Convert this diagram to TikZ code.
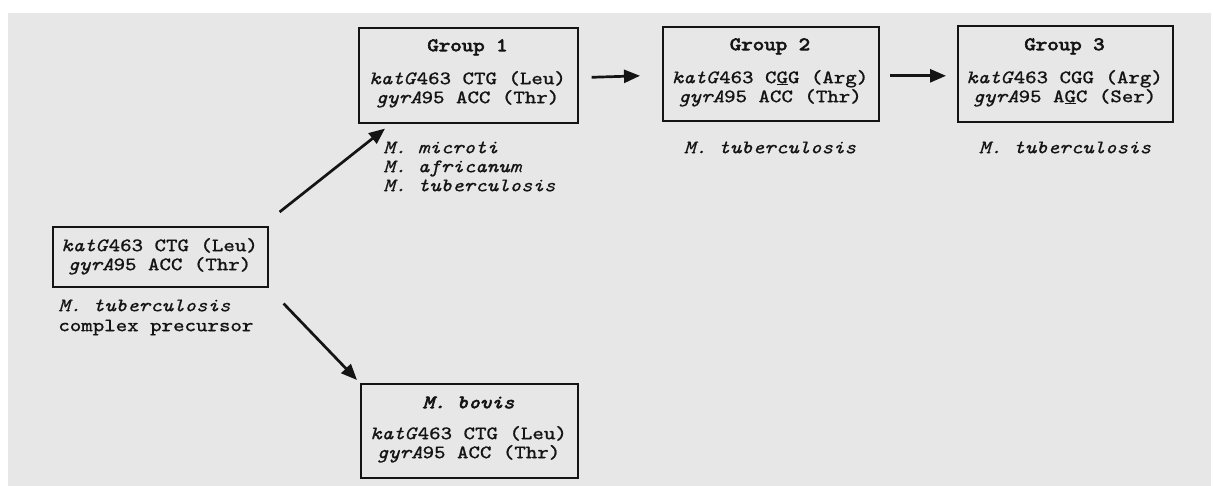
\documentclass[tikz,border=0pt]{standalone}
\usepackage{fontspec}
\usetikzlibrary{arrows.meta,calc}
\newfontfamily\tx[FakeBold=0.7,FakeStretch=1.15]{Latin Modern Mono}
\newfontfamily\tb[FakeBold=3.2,FakeStretch=1.15]{Latin Modern Mono}
\definecolor{bg}{RGB}{231,231,231}
\definecolor{ink}{RGB}{20,20,20}
\newcommand{\ul}[1]{{\setbox0\hbox{#1}\rlap{\raisebox{-1.1pt}{\rule{\wd0}{0.45pt}}}\box0}}
\begin{document}
\begin{tikzpicture}[x=0.5pt,y=-0.5pt,
  every node/.style={font=\tx\fontsize{9.5}{9}\selectfont, text=ink, inner sep=0pt,
    text height=5.6pt, text depth=1.4pt},
  box/.style={draw=ink, line width=0.8pt, fill=bg, inner sep=0pt, anchor=north west,
    text height=, text depth=},
  ttl/.style={font=\tb\fontsize{9.5}{9}\selectfont},
  spc/.style={font=\tx\itshape\fontsize{9.5}{9}\selectfont},
  arr/.style={-{Triangle[length=8pt,width=6.5pt]}, line width=1.35pt, draw=ink},
]
\useasboundingbox (0,0) rectangle (1213,486);
\fill[bg] (8,13) rectangle (1211,486);

% boxes
\node[box, minimum width=107.5pt, minimum height=30pt] (pre) at (52,226) {};
\node[box, minimum width=109.5pt, minimum height=47.5pt] (g1) at (358,27) {};
\node[box, minimum width=108pt, minimum height=47pt] (g2) at (662,26) {};
\node[box, minimum width=107.5pt, minimum height=48pt] (g3) at (957,25) {};
\node[box, minimum width=108.5pt, minimum height=47pt] (bov) at (360,383) {};

% box texts
\node (pre1) at (159.5,247) {\textit{katG}463 CTG (Leu)};
\node (pre2) at (159.5,266) {\textit{gyrA}95 ACC (Thr)};

\node[ttl] (g1t) at (467.5,47) {Group 1};
\node (g1a) at (467.5,80) {\textit{katG}463 CTG (Leu)};
\node (g1b) at (467.5,99) {\textit{gyrA}95 ACC (Thr)};

\node[ttl] (g2t) at (770,46) {Group 2};
\node (g2a) at (770,79) {\textit{katG}463 C\ul{G}G (Arg)};
\node (g2b) at (770,98) {\textit{gyrA}95 ACC (Thr)};

\node[ttl] (g3t) at (1064.5,46) {Group 3};
\node (g3a) at (1064.5,79) {\textit{katG}463 CGG (Arg)};
\node (g3b) at (1064.5,98) {\textit{gyrA}95 A\ul{G}C (Ser)};

\node[ttl, font=\tb\itshape\fontsize{9.5}{9}\selectfont] (bovt) at (468.5,404) {M. bovis};
\node (bova) at (468.5,435) {\textit{katG}463 CTG (Leu)};
\node (bovb) at (468.5,454) {\textit{gyrA}95 ACC (Thr)};

% captions
\node[anchor=west] (prec1) at (58,307) {\textit{M. tuberculosis}};
\node[anchor=west] (prec2) at (58,327) {complex precursor};
\node[spc, anchor=west] (g1s1) at (383,149) {M. microti};
\node[spc, anchor=west] (g1s2) at (383,168) {M. africanum};
\node[spc, anchor=west] (g1s3) at (383,187) {M. tuberculosis};
\node[spc] (g2s) at (770,149) {M. tuberculosis};
\node[spc] (g3s) at (1065,149) {M. tuberculosis};

% connectors
\draw[arr] ($(pre.north east)+(11,-14)$) -- ($(g1.south west)+(27,5)$);
\draw[arr] ($(pre.south east)+(15,16)$) -- ($(bov.north west)+(-3,-3)$);
\draw[arr] ($(g1.east)+(13,2)$) -- ($(g2.west)+(-22,2)$);
\draw[arr] ($(g2.east)+(10,2)$) -- ($(g3.west)+(-11,2)$);
\end{tikzpicture}
\end{document}
